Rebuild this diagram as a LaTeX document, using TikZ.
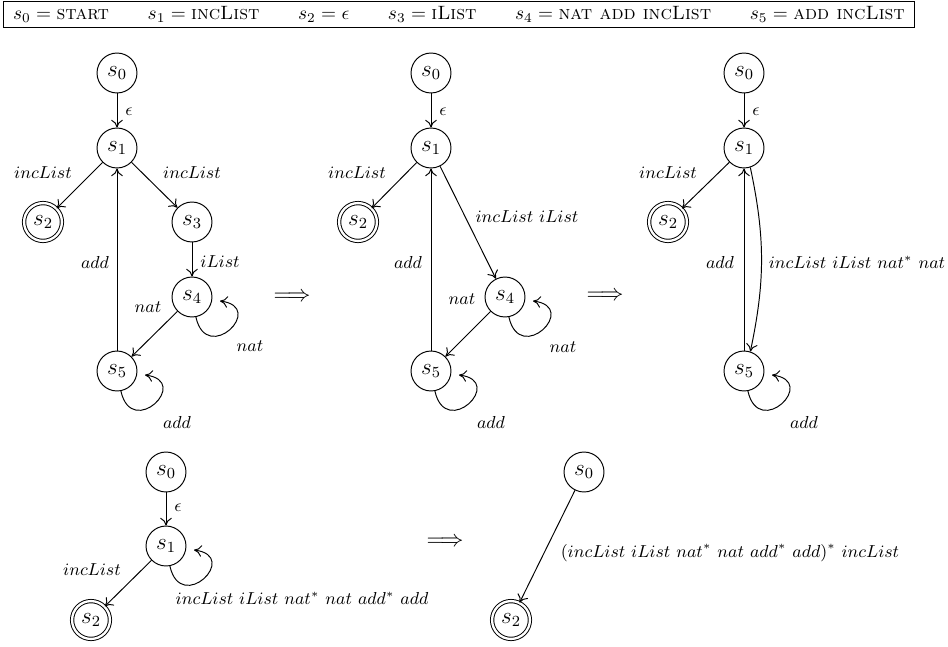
\documentclass[tikz,border=0pt]{standalone}
\usetikzlibrary{arrows.meta,calc}
\newcommand{\selfloop}[1]{%
  \coordinate (#1x) at ($(#1)+(28,-4)$);
  \draw[arr] (#1.-79) .. controls +(11,-49) and +(47,-6) .. (#1x);}
\begin{document}
\begin{tikzpicture}[x=0.518pt,y=0.518pt,line width=0.5pt,
  st/.style={circle,draw,minimum size=20.7pt,inner sep=0pt,font=\large},
  acc/.style={st,double,double distance=1.2pt,minimum size=19.6pt},
  arr/.style={-{To[length=4pt,width=6pt]}},
  lbl/.style={font=\small,inner sep=0pt},
  impl/.style={font=\large,inner sep=0pt}]
\useasboundingbox (0,0) rectangle (948,-646);

% header
\node[draw,anchor=north west,inner xsep=5pt,inner ysep=0.8pt] (hdr) at (3,-1)
 {\strut$s_0 = \textsc{start}$\qquad $s_1 = \textsc{incList}$\qquad $s_2 = \epsilon$\qquad $s_3 = \textsc{iList}$\qquad $s_4 = \textsc{nat add incList}$\qquad $s_5 = \textsc{add incList}$};

% ---------- diagram 1
\node[st]  (a0) at (117,-73)  {$s_0$};
\node[st]  (a1) at (117,-148) {$s_1$};
\node[acc] (a2) at (43,-222)  {$s_2$};
\node[st]  (a3) at (192,-222) {$s_3$};
\node[st]  (a4) at (192,-297) {$s_4$};
\node[st]  (a5) at (117,-371) {$s_5$};
\draw[arr] (a0) -- (a1);
\draw[arr] (a1) -- (a2);
\draw[arr] (a1) -- (a3);
\draw[arr] (a3) -- (a4);
\draw[arr] (a4) -- (a5);
\draw[arr] (a5) -- (a1);
\selfloop{a4}
\selfloop{a5}
\node[lbl] (la1) at (129,-112) {$\epsilon$};
\node[lbl] (la2) at (43,-173)  {$incList$};
\node[lbl] (la3) at (192,-173) {$incList$};
\node[lbl] (la4) at (220,-262) {$iList$};
\node[lbl] (la5) at (95,-262)  {$add$};
\node[lbl] (la6) at (148,-307) {$nat$};
\node[lbl] (la7) at (250,-346) {$nat$};
\node[lbl] (la8) at (177,-422) {$add$};
\node[impl] (i1) at (292,-297) {$\Longrightarrow$};

% ---------- diagram 2
\node[st]  (b0) at (431,-73)  {$s_0$};
\node[st]  (b1) at (431,-148) {$s_1$};
\node[acc] (b2) at (358,-222) {$s_2$};
\node[st]  (b4) at (505,-297) {$s_4$};
\node[st]  (b5) at (431,-371) {$s_5$};
\draw[arr] (b0) -- (b1);
\draw[arr] (b1) -- (b2);
\draw[arr] (b1) -- (b4);
\draw[arr] (b4) -- (b5);
\draw[arr] (b5) -- (b1);
\selfloop{b4}
\selfloop{b5}
\node[lbl] (lb1) at (443,-112) {$\epsilon$};
\node[lbl] (lb2) at (357,-173) {$incList$};
\node[lbl] (lb3) at (527,-217) {$incList\ iList$};
\node[lbl] (lb4) at (408,-262) {$add$};
\node[lbl] (lb5) at (462,-299) {$nat$};
\node[lbl] (lb6) at (563,-347) {$nat$};
\node[lbl] (lb7) at (491,-422) {$add$};
\node[impl] (i2) at (605,-296) {$\Longrightarrow$};

% ---------- diagram 3
\node[st]  (c0) at (744,-73)  {$s_0$};
\node[st]  (c1) at (744,-148) {$s_1$};
\node[acc] (c2) at (668,-222) {$s_2$};
\node[st]  (c5) at (744,-371) {$s_5$};
\draw[arr] (c0) -- (c1);
\draw[arr] (c1) -- (c2);
\draw[arr] (c1.-72) to[bend left=12] (c5.72);
\draw[arr] (c5) -- (c1);
\selfloop{c5}
\node[lbl] (lc1) at (756,-112) {$\epsilon$};
\node[lbl] (lc2) at (668,-173) {$incList$};
\node[lbl] (lc3) at (720,-262) {$add$};
\node[lbl] (lc4) at (857,-262) {$incList\ iList\ nat^*\ nat$};
\node[lbl] (lc5) at (804,-422) {$add$};

% ---------- diagram 4
\node[st]  (d0) at (166,-472) {$s_0$};
\node[st]  (d1) at (166,-546) {$s_1$};
\node[acc] (d2) at (91,-620)  {$s_2$};
\draw[arr] (d0) -- (d1);
\draw[arr] (d1) -- (d2);
\selfloop{d1}
\node[lbl] (ld1) at (178,-508) {$\epsilon$};
\node[lbl] (ld2) at (92,-570)  {$incList$};
\node[lbl] (ld3) at (302,-598) {$incList\ iList\ nat^*\ nat\ add^*\ add$};
\node[impl] (i3) at (445,-542) {$\Longrightarrow$};

% ---------- diagram 5
\node[st]  (e0) at (584,-472) {$s_0$};
\node[acc] (e2) at (511,-620) {$s_2$};
\draw[arr] (e0) -- (e2);
\node[lbl] (le1) at (730,-553) {$(incList\ iList\ nat^*\ nat\ add^*\ add)^*\ incList$};
\end{tikzpicture}
\end{document}
